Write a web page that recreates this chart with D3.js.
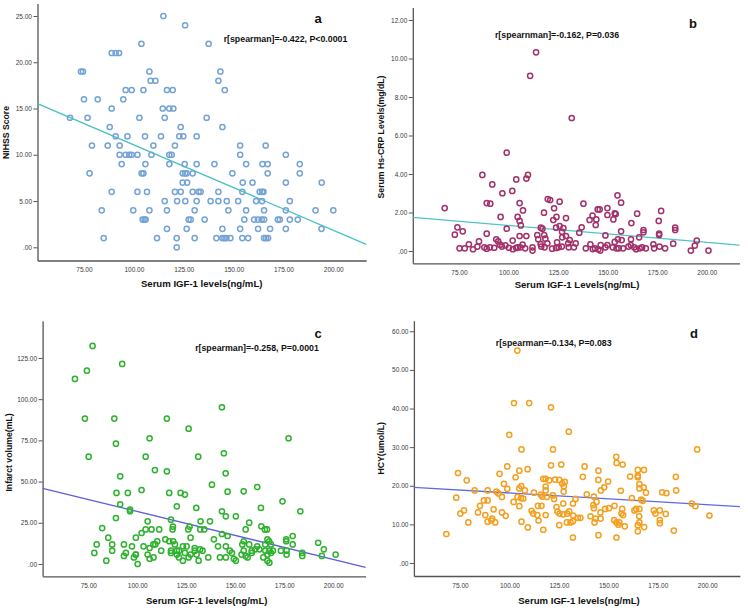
<!DOCTYPE html>
<html><head><meta charset="utf-8">
<script src="https://cdn.jsdelivr.net/npm/d3@7"></script>
<style>body{margin:0;background:#fff}svg{display:block}text{font-family:"Liberation Sans",Arial,sans-serif}</style>
</head><body><svg id="chart" width="748" height="608"></svg>
<script>
// ---- data ----
const xTicks = [75, 100, 125, 150, 175, 200];
const xDomain = [51.7, 216.5];
const aTicks = [0, 5, 10, 15, 20, 25];
const bTicks = [0, 2, 4, 6, 8, 10, 12];
const cTicks = [0, 25, 50, 75, 100, 125];
const dTicks = [0, 10, 20, 30, 40, 50, 60];
// fit line values at the two ends of the x domain
const aFit = [15.52, 0.31];
const bFit = [1.75, 0.31];
const cFit = [45.9, -2.0];
const dFit = [19.6, 14.6];
const labels = ["a", "b", "c", "d"];
const statTexts = ["r[spearman]=-0.422, P<0.0001", "r[spearnman]=-0.162, P=0.036", "r[spearman]=-0.258, P=0.0001", "r[spearman=-0.134, P=0.083"];
const xTitles = ["Serum IGF-1 levels(ng/mL)", "Serum IGF-1 Levels(ng/mL)", "Serum IGF-1 levels(ng/mL)", "Serum IGF-1 levels(ng/mL)"];
const yTitles = ["NIHSS Score", "Serum Hs-CRP Levels(mg/dL)", "Infarct volume(mL)", "HCY(umol/L)"];

// [IGF-1, NIHSS]
const aData = [[114.8,25],[125.7,24],[103.8,22],[137.5,22],[88.9,21],[90.9,21],[92.6,21],[73.5,19],[74.5,19],[107.8,19],[143.4,19],[108.4,18],[110.8,18],[142.4,18],[95.9,17],[98.9,17],[104.8,17],[116.6,17],[119.5,17],[145.6,17],[75,16],[81.9,16],[94.7,16],[88.9,15],[114.5,15],[117.8,15],[119.8,15],[68,14],[76.8,14],[102.8,14],[115.5,14],[136.5,14],[87.9,13],[123.5,13],[144.4,13],[90.9,12],[96.8,12],[105.6,12],[113.6,12],[122.8,12],[124.8,12],[131.5,12],[79,11],[86.9,11],[92.9,11],[109.8,11],[120.6,11],[153.3,11],[166.1,11],[92.9,10],[95.9,10],[97.7,10],[98.9,10],[101.8,10],[108.8,10],[117.8,10],[119,10],[153.3,10],[176.2,10],[93.9,9],[105.8,9],[117.8,9],[125.5,9],[131.5,9],[140.4,9],[156.3,9],[164.5,9],[167.1,9],[183.2,9],[77.8,8],[103.9,8],[104.8,8],[124.5,8],[125.7,8],[126.5,8],[129.5,8],[149.4,8],[167.1,8],[183.2,8],[124.5,7],[126.7,7],[154.6,7],[159.5,7],[176.2,7],[194.2,7],[88.9,6],[101.8,6],[106.6,6],[120.6,6],[123.5,6],[129.5,6],[132.5,6],[133.5,6],[142.4,6],[154.4,6],[163.1,6],[164.3,6],[165,6],[115.5,5],[121.7,5],[125.8,5],[131.5,5],[138.5,5],[142.4,5],[146.6,5],[152.3,5],[161.3,5],[164.3,5],[178.2,5],[83.9,4],[99.7,4],[107.8,4],[116.6,4],[130.5,4],[147.4,4],[156.3,4],[165.3,4],[176.2,4],[191.1,4],[200,4],[104.4,3],[105.4,3],[105.9,3],[127.5,3],[128.5,3],[135.5,3],[155.4,3],[160.3,3],[162.2,3],[164.1,3],[165.3,3],[172.2,3],[173.2,3],[178.2,3],[182.2,3],[116.6,2],[126.5,2],[144.4,2],[153.3,2],[162.3,2],[168.3,2],[176.2,2],[194.1,2],[84.9,1],[111.6,1],[121.5,1],[130.5,1],[141.4,1],[144.4,1],[145.4,1],[146.4,1],[148.4,1],[154.4,1],[157.3,1],[165.3,1],[166.3,1],[167.3,1],[121.5,0]];

// [IGF-1, Hs-CRP]
const bData = [[113.9,10.32],[110.9,9.10],[131.9,6.91],[99.1,5.11],[86.8,3.95],[109.8,3.95],[109,3.76],[103.9,3.72],[91.8,3.46],[96.9,3.0],[101.9,3.12],[155,2.89],[125.8,2.56],[137.8,2.46],[105.6,2.49],[89,2.49],[90.8,2.46],[156.8,2.51],[119.8,2.70],[121,2.65],[107.3,2.11],[123,2.22],[145,2.16],[146,2.16],[149.9,2.23],[177,2.08],[67.8,2.23],[117.9,1.99],[153.6,1.96],[154.1,1.92],[164.9,1.94],[96,1.77],[104.6,1.77],[124.2,1.77],[129,1.71],[105.6,1.56],[142.4,1.84],[144.3,1.64],[140.9,1.61],[122.6,1.61],[149.9,1.87],[152.9,1.64],[162,1.45],[175.8,1.56],[74.2,1.23],[99.1,1.16],[106.2,1.33],[116.3,1.21],[117.1,1.16],[124,1.21],[125.8,1.30],[127.7,1.19],[136.9,1.23],[144,1.35],[184.1,1.21],[184.1,1.09],[168.1,1.09],[168.1,0.97],[176,0.90],[176,0.83],[76.9,1.02],[72.9,0.85],[89,0.90],[135.7,0.95],[156.8,1.02],[165.9,0.71],[127,1.0],[148.9,0.81],[105.6,0.78],[109,0.78],[114.5,0.83],[118,0.83],[129,0.78],[93.8,0.61],[102.1,0.54],[115,0.61],[118.6,0.64],[127.1,0.71],[130.9,0.57],[155.2,0.61],[157.1,0.57],[161.8,0.61],[85.1,0.50],[94.8,0.50],[195,0.54],[153.6,0.47],[80,0.35],[95.7,0.33],[98.4,0.29],[107.1,0.33],[116.2,0.36],[119.6,0.40],[124.5,0.45],[130.1,0.40],[133.9,0.40],[141.3,0.35],[146.5,0.31],[149.9,0.31],[161.7,0.31],[173.1,0.35],[183.1,0.38],[194,0.28],[84.3,0.23],[75.3,0.14],[77.9,0.14],[82.1,0.09],[87.8,0.19],[89,0.12],[90.6,0.19],[92.8,0.17],[96.7,0.23],[100.2,0.17],[102.2,0.09],[103.9,0.16],[104.7,0.19],[105.9,0.19],[108.4,0.14],[112.1,0.19],[112.1,0.02],[116.5,0.23],[118.2,0.19],[122,0.12],[124,0.16],[125.3,0.19],[126.9,0.23],[130.4,0.19],[133,0.19],[139,0.14],[142.5,0.10],[143.6,0.14],[145.3,0.09],[146.3,0.02],[148.9,0.19],[152.6,0.19],[154.5,0.14],[155.6,0.14],[157.8,0.14],[160.5,0.23],[163.4,0.19],[164.4,0.09],[166.2,0.14],[167.4,0.19],[169.3,0.14],[173.5,0.14],[176.2,0.23],[179,0.14],[192,0.02],[200.9,0.02]];

// [IGF-1, infarct volume]
const cData = [[77.2,132.3],[68.2,112.3],[74.3,117.3],[92.3,121.4],[73.3,88.2],[88.3,88.2],[115.1,88.2],[143.2,95.1],[126.2,82.1],[106.3,76.3],[177.2,76.3],[89.1,73],[75.2,65.1],[104.3,65.1],[131.1,65.1],[144.2,67.2],[109,57],[115.1,56.2],[145.1,55],[91.3,53.2],[138.1,48.1],[161.2,46.7],[102.2,44.9],[154.3,44.1],[146.1,43.9],[89.4,43.1],[95.2,43.1],[116.3,43.1],[122.1,43.1],[124.3,42.1],[174.1,38],[91.3,36.2],[120.2,35],[130.1,34],[163.1,34],[183.2,32],[143.2,32],[96.3,33],[96.3,32],[89.1,27.9],[117.2,26.9],[145.2,28.9],[150.3,28.9],[105.3,25.9],[132.3,25.9],[137.1,25.9],[157.1,25.1],[126.7,22.7],[118.2,22.7],[163.3,22.9],[82.1,21.8],[104.3,21],[107.3,21],[111.2,21],[118,21],[126,21],[132.1,21],[134.2,21],[155.3,21],[165.1,21],[166.2,21],[102.2,18.8],[143.2,18.2],[146.1,17],[179.3,17],[85.2,16],[99.3,16],[127.2,16],[176,15],[114.3,15],[139.1,15],[166.4,15],[176,13.8],[79.3,11.9],[87.2,11.9],[93.2,11.9],[97.3,10.7],[103.2,10.7],[108.2,11.9],[110.2,13.8],[109.2,11.9],[106.3,9.7],[116.3,13.8],[118.3,13.8],[119.2,11.9],[123.3,10.7],[125.2,10.7],[129.3,9.7],[132.1,8.9],[141.2,10.7],[145.2,10.7],[153.6,11.9],[154.3,13.8],[157.1,11.9],[160.2,8.9],[161.2,10.7],[165.3,11.9],[167.3,13.8],[168.2,11.9],[179.3,11.9],[192.3,12.9],[78.1,6.7],[87.2,8.1],[94.2,6.7],[93.2,4.9],[98.3,4],[99.3,5.7],[105.3,5.7],[106.3,3.2],[108.3,4],[112.2,8.1],[120.2,8.1],[121.3,8.1],[117.2,8.1],[117.2,6.7],[120.2,5.7],[121.3,4],[123.3,2],[124.3,6.7],[126.2,4],[127.2,5.7],[129.3,8.1],[130.3,5.7],[131.3,2],[133.3,8.1],[136.2,4],[142.2,4],[145.2,4],[147.2,8.1],[148.3,6.7],[149.3,3.2],[150.3,2],[153.2,5.7],[154.3,8.1],[155.3,4.9],[156.3,4],[158.4,6.7],[158.4,8.1],[162.3,8.9],[164.3,4],[165.3,8.1],[166.4,5.7],[166.4,2],[167.4,8.1],[167.4,0.8],[168.2,6.7],[169.2,8.1],[173.3,8.1],[176.2,5.7],[176.2,8.1],[184.2,6.7],[184.2,4.9],[194.2,4.9],[195.2,8.9],[201.2,5.7],[84.2,2],[100.2,0],[99.2,5.7]];

// [IGF-1, HCY]
const dData = [[104,55],[102.3,41.4],[110,41.4],[121,40.3],[130,34],[99.9,33.2],[106.1,29.4],[122,29.4],[194.9,29.4],[154,27.5],[154.2,25.9],[157.2,25.5],[126.2,25.5],[121,25.3],[138,25],[98.9,25],[109.2,24.3],[105,23.9],[145,23.9],[164.9,24.1],[168,24.1],[74,23.3],[95,23.1],[103.1,22.2],[137.1,22.3],[161,22.4],[164.9,22.6],[164.9,22.2],[184.1,22.3],[117.1,21.8],[118.3,21.8],[123.1,21.6],[125.2,21.5],[144.9,21.5],[78.4,21.4],[128,21],[120.1,21.4],[149.9,21.1],[126.7,20.6],[97.2,20.5],[165.7,20.4],[106,19.9],[127.5,19.9],[118.3,19.8],[147.9,19.6],[167.9,19.6],[98.9,19.2],[89,18.8],[105,19.3],[107.8,18.8],[82.4,18.8],[93.4,18.5],[118.3,18.8],[127.4,18.5],[146.2,18.8],[184.3,18.8],[156.3,18.7],[165.7,19.3],[169,18.2],[112.4,18.2],[94.4,18],[177.2,18.3],[179.4,18.1],[139.1,17.8],[115.9,17.7],[116.6,17.2],[122,17.5],[73.1,16.9],[96.2,17.1],[104.1,17.1],[105.8,16.8],[107,16.7],[118.9,17.1],[122.6,16.6],[133.4,16.6],[142.7,17.2],[161.9,16.8],[87.1,16.2],[89,16.2],[166.6,16.4],[167.4,16.1],[127.2,15.4],[132.1,15.4],[102.1,15.8],[144,15.8],[153.1,14.8],[192.2,15.4],[194,14.7],[85.1,14.8],[105,14.7],[114.4,14.8],[116.2,14.8],[123.8,14.5],[142.4,15],[150.3,14.2],[148.4,14],[142.7,14.2],[157,14],[163.2,13.6],[164.1,14],[165.7,14],[173,13.6],[176,13.6],[77,13.6],[84.1,13.1],[92,13.9],[96.2,13.1],[111.2,13.5],[124.3,13.3],[125.3,12.8],[129.2,12.8],[130.2,13.4],[146,13.1],[157.5,12.4],[173.8,12.8],[179,12.7],[75.2,12.8],[87.8,12.4],[112,12.8],[114.1,12.4],[118.3,12.4],[127.2,12.6],[132.2,12.3],[134.6,11.7],[135.9,11.7],[141,12.1],[165.6,12.1],[201.1,12.3],[91.3,11.5],[98.1,12.2],[143.5,11.5],[146.1,11.5],[156.6,12.8],[176,11.1],[176,10.3],[79.2,10.5],[89,10.7],[92.8,10.5],[106.1,10.7],[114.7,11],[129,10.5],[130.9,10.5],[132.1,10.8],[143,10.5],[152.9,11.1],[154.1,10.5],[155.1,9.9],[155.6,10.5],[165.7,10.5],[90.8,11],[109.3,9.2],[125.2,9.8],[158.3,9.5],[168.1,9.3],[164.9,9.8],[117.1,8.6],[164.9,8.2],[183.1,8.4],[68.1,7.5],[145,7.2],[132.1,6.6],[154.1,6.6]];

// ---- layout / style ----
const panels = [
  {data:aData, ticks:aTicks, fit:aFit, yDom:[-1.427,26.35], xr:[37.5,366.2], yr:[260.5,3.5], pt:"#74a3d6", ln:"#44c2c2",
   lab:[318,23], stat:[285.5,41.5], xt:[201.7,287], yt:[6,132.5]},
  {data:bData, ticks:bTicks, fit:bFit, yDom:[-0.639,12.65], xr:[412.8,739.4], yr:[263.3,7.5], pt:"#a2306a", ln:"#4fc4c8",
   lab:[693,27.5], stat:[557,38], xt:[577,287.5], yt:[381,137]},
  {data:cData, ticks:cTicks, fit:cFit, yDom:[-7.46,147.6], xr:[42.6,365.6], yr:[576.3,320.7], pt:"#2eb22e", ln:"#5d5de0",
   lab:[318,337.5], stat:[257,351], xt:[206.7,604], yt:[9,452.5]},
  {data:dData, ticks:dTicks, fit:dFit, yDom:[-3.37,62.74], xr:[413.9,739.9], yr:[576,320.7], pt:"#f39f1f", ln:"#5b6be0",
   lab:[694,338], stat:[553.7,346], xt:[579,604], yt:[381,448.3]}
];

const svg = d3.select("#chart");
const fmt = v => v === 0 ? ".00" : d3.format(".2f")(v);

panels.forEach((p, i) => {
  const x = d3.scaleLinear().domain(xDomain).range(p.xr);
  const y = d3.scaleLinear().domain(p.yDom).range(p.yr);
  const g = svg.append("g");

  const xa = g.append("g").attr("transform", `translate(0,${p.yr[0]})`)
    .call(d3.axisBottom(x).tickValues(xTicks).tickFormat(fmt).tickSize(0).tickSizeOuter(0).tickPadding(7));
  const ya = g.append("g").attr("transform", `translate(${p.xr[0]},0)`)
    .call(d3.axisLeft(y).tickValues(p.ticks).tickFormat(fmt).tickSize(4).tickSizeOuter(0).tickPadding(1.5));
  [xa, ya].forEach(a => {
    a.select(".domain").attr("stroke", "#555").attr("stroke-width", 1.3);
    a.selectAll(".tick line").attr("stroke", "#555").attr("stroke-width", 1);
    a.selectAll(".tick text").attr("fill", "#3a3a3a").style("font-size", "6.5px").style("font-family", '"Liberation Sans",Arial,sans-serif');
  });

  g.append("line")
    .attr("x1", x(xDomain[0])).attr("y1", y(p.fit[0]))
    .attr("x2", x(xDomain[1])).attr("y2", y(p.fit[1]))
    .attr("stroke", p.ln).attr("stroke-width", 1.3);

  g.append("g").selectAll("circle").data(p.data).join("circle")
    .attr("cx", d => x(d[0])).attr("cy", d => y(d[1])).attr("r", 2.6)
    .attr("fill", "none").attr("stroke", p.pt).attr("stroke-width", 1.5);

  g.append("text").attr("x", p.lab[0]).attr("y", p.lab[1]).attr("text-anchor", "middle")
    .style("font-size", "13px").style("font-weight", "bold").attr("fill", "#111").text(labels[i]);
  g.append("text").attr("x", p.stat[0]).attr("y", p.stat[1]).attr("text-anchor", "middle")
    .style("font-size", "8.8px").style("font-weight", "bold").attr("fill", "#111").text(statTexts[i]);
  g.append("text").attr("x", p.xt[0]).attr("y", p.xt[1]).attr("text-anchor", "middle")
    .style("font-size", "9.6px").style("font-weight", "bold").attr("fill", "#111").text(xTitles[i]);
  g.append("text").attr("transform", `translate(${p.yt[0]},${p.yt[1]}) rotate(-90)`)
    .attr("text-anchor", "middle").attr("dy", "0.35em")
    .style("font-size", "8.7px").style("font-weight", "bold").attr("fill", "#111").text(yTitles[i]);
});
</script>
</body></html>
